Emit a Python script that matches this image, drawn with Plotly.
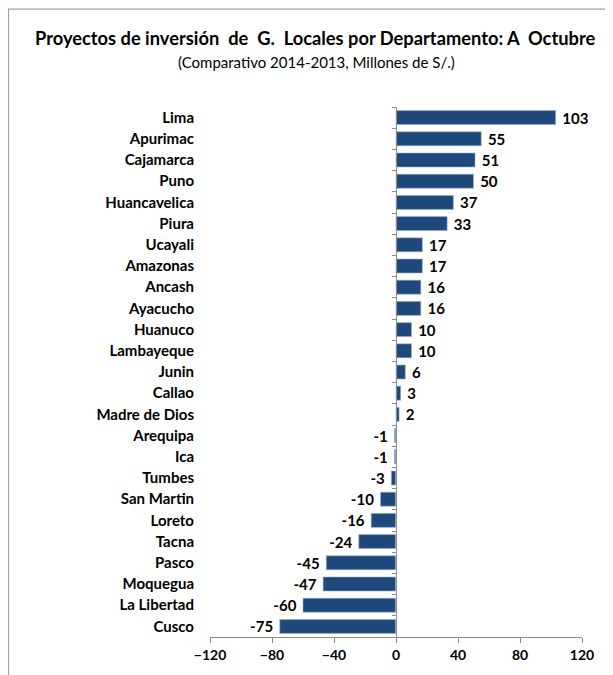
import plotly.graph_objects as go

departamentos = ["Lima", "Apurimac", "Cajamarca", "Puno", "Huancavelica", "Piura", "Ucayali",
                 "Amazonas", "Ancash", "Ayacucho", "Huanuco", "Lambayeque", "Junin", "Callao",
                 "Madre de Dios", "Arequipa", "Ica", "Tumbes", "San Martin", "Loreto", "Tacna",
                 "Pasco", "Moquegua", "La Libertad", "Cusco"]
variacion = [103, 55, 51, 50, 37, 33, 17, 17, 16, 16, 10, 10, 6, 3, 2,
             -1, -1, -3, -10, -16, -24, -45, -47, -60, -75]
x_ticks = [-120, -80, -40, 0, 40, 80, 120]

FONT = "Lato"
BLUE = "#1F497D"

# page body has an 8px margin, so the figure is sized to fill the rest of the window
W, H = 605, 667
L, R, T, B = 202, 31, 99, 35
pw, ph = W - L - R, H - T - B

# a space on the bar side gives the labels a little more room from the bar end
etiquetas = [f" {v}" if v >= 0 else f"{v} " for v in variacion]

fig = go.Figure()
fig.add_trace(go.Bar(
    x=variacion, y=departamentos, orientation="h",
    marker=dict(color=BLUE, line=dict(color="#9FB3CC", width=0.6)),
    text=etiquetas, textposition="outside", constraintext="none",
    textfont=dict(family=FONT, size=15, color="black", weight="bold"),
    cliponaxis=False, hoverinfo="skip",
))
# second y axis only draws the axis line at zero with category ticks
fig.add_trace(go.Bar(x=[0] * len(departamentos), y=departamentos, orientation="h",
                     yaxis="y2", showlegend=False, hoverinfo="skip",
                     marker=dict(color="rgba(0,0,0,0)")))

fig.update_layout(
    width=W, height=H,
    margin=dict(l=L, r=R, t=T, b=B),
    paper_bgcolor="white", plot_bgcolor="white",
    showlegend=False, bargap=0.34,
    font=dict(family=FONT, color="black"),
    xaxis=dict(range=[-120, 120], tickvals=x_ticks, showgrid=False, zeroline=False,
               showline=True, linecolor="#8C8C8C", linewidth=1,
               ticks="outside", ticklen=5, tickcolor="#8C8C8C",
               tickfont=dict(family=FONT, size=14, weight="bold")),
    yaxis=dict(categoryorder="array", categoryarray=departamentos[::-1],
               showgrid=False, zeroline=False, showline=False, ticks="",
               tickfont=dict(family=FONT, size=15, weight="bold"), ticklabelstandoff=15),
    yaxis2=dict(overlaying="y", matches="y", anchor="free", position=0.5,
                showticklabels=False, showgrid=False, zeroline=False,
                showline=True, linecolor="#8C8C8C", linewidth=1,
                ticks="outside", ticklen=4, tickcolor="#8C8C8C", tickson="boundaries"),
    annotations=[
        dict(text="<b>Proyectos de inversión  de  G.  Locales por Departamento: A  Octubre</b>",
             xref="paper", yref="paper", x=(306.5 - L) / pw, y=(H - B - 30) / ph, showarrow=False,
             font=dict(family=FONT, size=18.3), xanchor="center", yanchor="middle"),
        dict(text="(Comparativo 2014-2013, Millones de S/.)",
             xref="paper", yref="paper", x=(308 - L) / pw, y=(H - B - 54) / ph, showarrow=False,
             font=dict(family=FONT, size=15), xanchor="center", yanchor="middle"),
    ],
    shapes=[dict(type="rect", xref="paper", yref="paper",
                 x0=(0.5 - L) / pw, x1=(W + 20 - L) / pw, y0=-0.2, y1=(H - B - 0.5) / ph,
                 line=dict(color="#8EA2BE", width=1.2))],
)

fig.write_html("out.html")
